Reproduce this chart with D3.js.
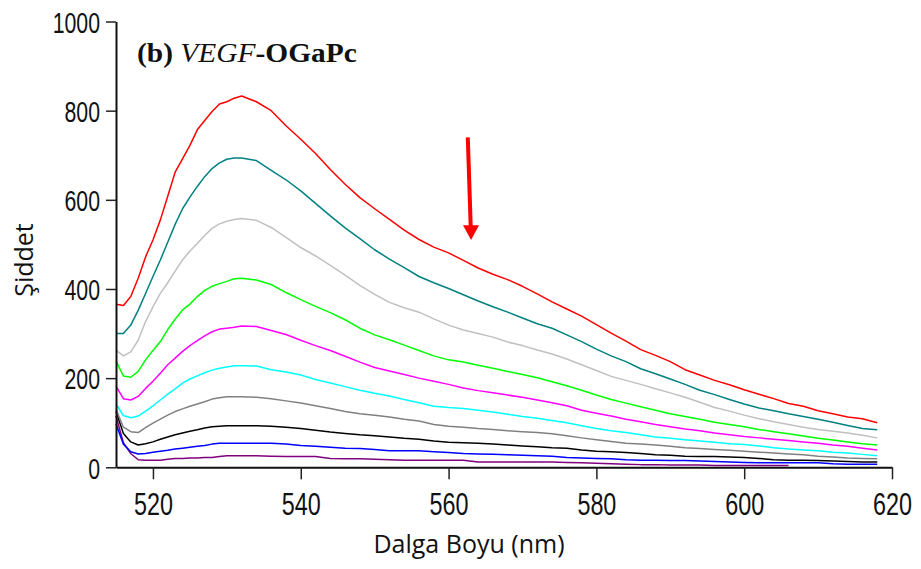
<!DOCTYPE html>
<html>
<head>
<meta charset="utf-8">
<script src="https://cdn.jsdelivr.net/npm/d3@7"></script>
<style>
  body { margin: 0; background: #fff; }
  svg { display: block; }
</style>
</head>
<body>
<svg id="chart" width="921" height="569"></svg>
<script>
// Emission wavelengths (nm)
const wavelengths = [515,516,517,518,519,520,521,522,523,524,525,526,527,528,529,530,531,
  532,534,536,538,540,542,544,546,548,550,552,554,556,558,560,562,564,566,568,570,572,574,576,
  578,580,582,584,586,588,590,592,594,596,598,600,602,604,606,608,610,612,614,616,618];

// Fluorescence intensity for each titration step
const seriesRed = [366,363,383,424,472,510,555,608,662,692,722,757,778,798,815,820,828,
  833,820,800,766,736,704,668,635,605,580,556,532,511,494,481,464,447,433,421,406,389,371,355,
  339,320,301,283,264,251,237,219,207,195,185,174,164,154,143,137,127,120,113,109,100];
const seriesTeal = [300,300,319,352,390,428,465,505,545,580,606,630,652,670,683,691,694,
  694,688,666,645,620,592,564,537,513,488,467,448,428,414,401,387,373,360,348,335,322,312,297,
  282,265,250,237,221,210,198,186,173,163,152,142,133,127,120,114,108,101,94,87,84];
const seriesSilver = [263,250,259,285,327,360,390,414,440,465,485,502,520,536,546,552,556,
  558,554,538,516,493,474,453,431,408,388,370,358,348,333,319,308,300,292,281,273,263,254,243,
  230,217,204,195,186,176,167,157,146,134,126,117,109,102,96,90,85,81,77,72,66];
const seriesLime = [238,205,202,215,241,262,282,309,332,353,366,383,397,406,412,417,423,
  424,420,410,392,376,361,347,331,312,297,286,274,262,250,241,236,229,222,215,208,201,192,183,
  173,162,152,144,136,128,120,114,108,101,96,91,85,80,75,70,65,61,57,53,50];
const seriesMagenta = [182,154,151,159,177,193,211,230,245,260,273,284,295,304,310,312,314,
  317,316,307,298,285,273,262,249,236,224,216,208,200,193,186,178,172,167,162,157,151,145,138,
  128,121,115,108,102,96,91,86,82,77,73,69,66,63,60,57,54,50,47,43,39];
const seriesCyan = [142,116,111,115,126,138,151,164,176,189,198,205,212,218,222,225,228,
  228,227,219,214,207,197,189,181,173,166,160,152,145,137,134,132,128,124,119,114,110,105,100,
  93,87,82,78,73,68,65,62,59,56,53,51,48,44,41,39,37,34,32,29,26];
const seriesGray = [130,90,80,78,89,99,108,117,125,131,137,142,147,153,156,158,158,
  158,157,154,149,144,138,132,125,120,117,113,108,104,96,92,90,87,85,82,80,78,75,71,
  66,62,58,54,52,50,47,44,42,40,38,36,34,32,30,28,25,23,21,20,19];
const seriesBlack = [125,76,57,50,53,57,63,68,73,77,81,84,88,91,92,93,93,
  93,93,92,90,87,83,79,76,73,71,68,65,63,59,56,55,54,52,50,48,46,44,43,
  39,36,35,33,31,28,27,25,24,24,23,22,20,17,16,16,15,14,13,12,12];
const seriesBlue = [97,52,35,30,31,34,36,38,41,43,45,47,49,52,54,54,54,
  54,54,54,52,49,47,45,43,42,40,37,37,37,35,33,31,30,29,28,27,26,25,22,
  21,20,19,17,16,16,15,15,14,13,12,11,10,10,10,10,10,8,7,7,7];
const seriesPurple = [115,55,31,17,16,16,16,18,20,20,21,21,22,22,24,26,26,
  26,26,25,24,24,24,20,19,19,18,17,16,16,16,16,16,12,12,12,12,12,12,11,
  10,9,8,7,6,6,5,5,5,4,4,4,4,4,4,null,null,null,null,null,null];

const seriesList = [seriesPurple, seriesBlue, seriesBlack, seriesGray, seriesCyan,
  seriesMagenta, seriesLime, seriesSilver, seriesTeal, seriesRed];
const seriesColors = ["#800080", "#0000ff", "#000000", "#808080", "#00ffff",
  "#ff00ff", "#00ff00", "#c0c0c0", "#008080", "#ff0000"];

const xTicks = [520, 540, 560, 580, 600, 620];
const yTicks = [0, 200, 400, 600, 800, 1000];

const svg = d3.select("#chart");
const x = d3.scaleLinear().domain([515, 620]).range([116, 892]);
const y = d3.scaleLinear().domain([0, 1000]).range([467.3, 21.5]);

// Spectra
const line = d3.line()
  .defined(d => d != null)
  .x((d, i) => x(wavelengths[i]))
  .y(d => y(d));

svg.append("g").selectAll("path")
  .data(seriesList)
  .join("path")
  .attr("fill", "none")
  .attr("stroke", (d, i) => seriesColors[i])
  .attr("stroke-width", 1.5)
  .attr("stroke-linejoin", "round")
  .attr("d", line);

// Axes
const xAxis = svg.append("g")
  .attr("transform", `translate(0,${y(0)})`)
  .call(d3.axisBottom(x).tickValues(xTicks).tickFormat(d3.format("d"))
    .tickSize(12).tickSizeOuter(0));
const yAxis = svg.append("g")
  .attr("transform", `translate(${x(515)},0)`)
  .call(d3.axisLeft(y).tickValues(yTicks).tickFormat(d3.format("d"))
    .tickSize(10).tickSizeOuter(0));

[xAxis, yAxis].forEach(g => {
  g.select(".domain").attr("stroke", "#111").attr("stroke-width", 2);
  g.selectAll(".tick line").attr("stroke", "#222").attr("stroke-width", 1.5);
  g.selectAll(".tick text")
    .attr("fill", "#111")
    .attr("font-family", "'Liberation Sans', Arial, sans-serif");
});

const xs = 0.73;
xAxis.selectAll(".tick text")
  .attr("font-size", 32)
  .attr("y", 48).attr("dy", 0)
  .attr("transform", `scale(${xs},1)`);

const ys = 0.71;
yAxis.selectAll(".tick text")
  .attr("font-size", 30)
  .attr("x", -16 / ys).attr("dy", "0.36em")
  .attr("transform", `scale(${ys},1)`);

// Axis titles
svg.append("text")
  .attr("x", 469).attr("y", 553)
  .attr("text-anchor", "middle")
  .attr("font-family", "'Open Sans', sans-serif")
  .attr("font-size", 25)
  .attr("fill", "#111")
  .text("Dalga Boyu (nm)");

svg.append("text")
  .attr("transform", "translate(33,260) rotate(-90)")
  .attr("text-anchor", "middle")
  .attr("font-family", "'Open Sans', sans-serif")
  .attr("font-size", 25)
  .attr("fill", "#111")
  .text("Şiddet");

// Panel title
const title = svg.append("text")
  .attr("font-family", "'Liberation Serif', 'Times New Roman', serif")
  .attr("font-size", 27)
  .attr("fill", "#111");
title.append("tspan").attr("font-weight", "bold").text("(b) ");
title.append("tspan").attr("font-style", "italic").text("VEGF");
title.append("tspan").attr("font-weight", "bold").text("-OGaPc");
const tw = title.node().getComputedTextLength();
title.attr("transform", `translate(137,62) scale(${220 / tw},1)`);

// Arrow marking the decreasing intensity
const arrowX0 = 562.6, arrowX1 = 563;
const arrowTop = 740, arrowBase = 543, arrowTip = 510;
svg.append("line")
  .attr("x1", x(arrowX0)).attr("y1", y(arrowTop))
  .attr("x2", x(arrowX1)).attr("y2", y(arrowBase) + 2)
  .attr("stroke", "#ff0000").attr("stroke-width", 4);
const hx = x(arrowX1) + 0.3;
svg.append("path")
  .attr("d", `M${hx - 8},${y(arrowBase)} L${hx + 8},${y(arrowBase)} L${hx},${y(arrowTip)} Z`)
  .attr("fill", "#ff0000");
</script>
</body>
</html>
